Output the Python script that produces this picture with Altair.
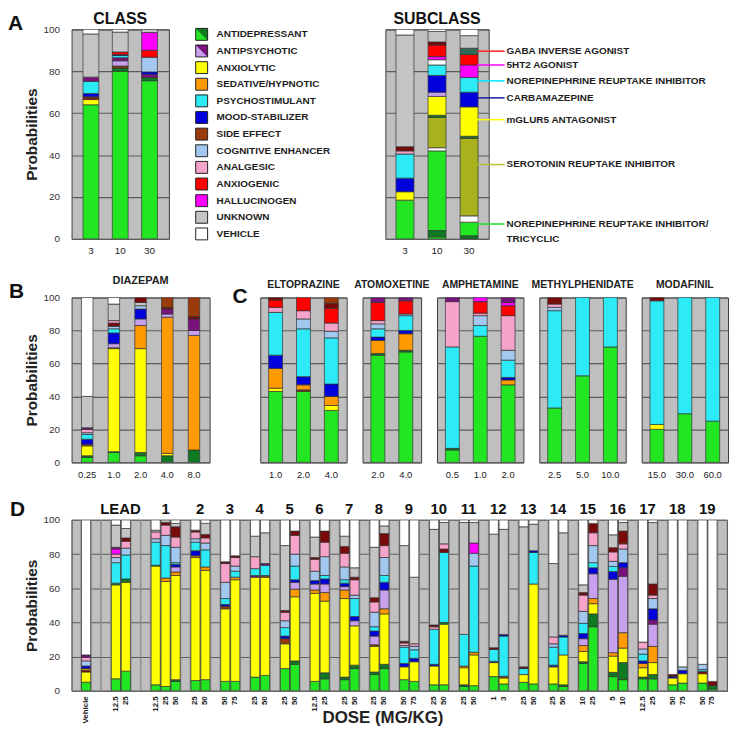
import altair as alt
import pandas as pd

FONT = "Liberation Sans"
TICKS = [0, 20, 40, 60, 80, 100]

# ---------------- colour codes ----------------
CODES = ["AD", "AD2", "AP", "AP2", "AX", "SH", "PS", "MS", "SE", "SE2",
         "CE", "AN", "AXG", "HAL", "UNK", "VEH", "OLV", "DKT"]
COLORS = ["#22e622", "#0f7a22", "#7a127e", "#c7a0ee", "#ffff00", "#ff9a00",
          "#2ceaf6", "#0000dd", "#9a3a0a", "#7a0a0a", "#a2c8f0", "#f5a3c8",
          "#ff0000", "#ff00ff", "#c4c4c4", "#ffffff", "#a9b21c", "#2f6b55"]
COLOR_SCALE = alt.Scale(domain=CODES, range=COLORS)

LEGEND_LABELS = ["ANTIDEPRESSANT", "ANTIPSYCHOTIC", "ANXIOLYTIC", "SEDATIVE/HYPNOTIC",
                 "PSYCHOSTIMULANT", "MOOD-STABILIZER", "SIDE EFFECT", "COGNITIVE ENHANCER",
                 "ANALGESIC", "ANXIOGENIC", "HALLUCINOGEN", "UNKNOWN", "VEHICLE"]
LEGEND_CODES = ["AD", "AP2", "AX", "SH", "PS", "MS", "SE", "CE", "AN", "AXG", "HAL", "UNK", "VEH"]
LEGEND_SPLIT_LABELS = ["ANTIDEPRESSANT", "ANTIPSYCHOTIC"]
LEGEND_SPLIT_CODES = ["AD2", "AP"]

# ---------------- panel A ----------------
CLASS_BARS = [
    ("3", [("AD", 64), ("AX", 2.5), ("AXG", 0.7), ("SE", 0.6), ("MS", 1.6), ("PS", 5.8),
           ("AP", 2), ("UNK", 20.6), ("VEH", 2.2)]),
    ("10", [("AD", 80), ("AD2", 1.5), ("SE", 1), ("AP2", 2.5), ("AP", 1.5), ("PS", 1),
            ("MS", 0.5), ("AXG", 1.2), ("UNK", 9.5), ("VEH", 1.3)]),
    ("30", [("AD", 75.5), ("AD2", 1.5), ("AP", 1.5), ("MS", 1.2), ("CE", 7), ("AXG", 3.3),
            ("HAL", 8.5), ("UNK", 1.5)]),
]
SUBCLASS_BARS = [
    ("3", [("AD", 18.5), ("AX", 4), ("MS", 6.5), ("PS", 11.5), ("AN", 1.5), ("SE2", 2),
           ("UNK", 53.3), ("VEH", 2.7)]),
    ("10", [("AD", 1), ("AD2", 3), ("AD", 38), ("VEH", 1.5), ("OLV", 14.5), ("AD2", 1),
            ("AX", 9), ("AP2", 2), ("MS", 8), ("PS", 5), ("VEH", 2.5), ("HAL", 1.5),
            ("AXG", 5.5), ("SE2", 1.5), ("UNK", 5), ("VEH", 1)]),
    ("30", [("AD2", 1.5), ("AD", 6.5), ("VEH", 3), ("OLV", 37), ("AD2", 1), ("AX", 14),
            ("MS", 7), ("PS", 7), ("HAL", 6), ("AXG", 5), ("DKT", 3), ("UNK", 6), ("VEH", 3)]),
]
ANNOT_LABELS = ["GABA  INVERSE AGONIST", "5HT2 AGONIST", "NOREPINEPHRINE REUPTAKE INHIBITOR",
                "CARBAMAZEPINE", "mGLUR5 ANTAGONIST", "SEROTONIN REUPTAKE INHIBITOR",
                "NOREPINEPHRINE REUPTAKE INHIBITOR/"]
ANNOT_VALUES = [89.6, 83.0, 75.4, 67.3, 56.9, 35.5, 7.1]
ANNOT_COLORS = ["#ff2020", "#ff00ff", "#00e5ff", "#1a1a99", "#ffff00", "#b8c030", "#22dd22"]
ANNOT_EXTRA_LABELS = ["TRICYCLIC"]
ANNOT_EXTRA_VALUES = [0.0]

# ---------------- panel B ----------------
DIAZEPAM_BARS = [
    ("0.25", [("AD", 3), ("AD2", 1), ("AX", 6), ("SE", 1), ("MS", 3), ("PS", 3), ("CE", 1),
              ("AN", 2), ("AP", 1), ("UNK", 19), ("VEH", 60)]),
    ("1.0", [("AD", 6), ("AD2", 0.5), ("AX", 62.5), ("SH", 0.5), ("AP2", 2.5), ("MS", 6.5),
             ("PS", 2.5), ("CE", 1.5), ("SE2", 2), ("AN", 1.5), ("UNK", 10), ("VEH", 4)]),
    ("2.0", [("AD", 4), ("AD2", 2), ("AX", 63), ("SH", 14), ("AP2", 4), ("MS", 6), ("CE", 2),
             ("UNK", 2), ("SE2", 3)]),
    ("4.0", [("AD2", 4), ("AX", 1.5), ("SH", 82.5), ("AP2", 2), ("AP", 3), ("SE2", 1), ("SE", 6)]),
    ("8.0", [("AD2", 7.5), ("SH", 69.5), ("AP2", 3), ("AP", 7), ("SE2", 1.5), ("SE", 11.5)]),
]

# ---------------- panel C ----------------
ELTOPRAZINE_BARS = [
    ("1.0", [("AD", 43), ("AX", 2), ("SH", 12), ("MS", 8), ("PS", 26), ("AN", 3), ("AXG", 4.5),
             ("SE2", 1.5)]),
    ("2.0", [("AD", 43), ("SE", 1), ("SH", 3), ("MS", 5), ("PS", 29), ("CE", 6), ("AN", 5),
             ("AXG", 8)]),
    ("4.0", [("AD", 31.5), ("AX", 3), ("SH", 5.5), ("MS", 7.5), ("PS", 28), ("CE", 4), ("AN", 5),
             ("AXG", 9), ("SE2", 3), ("SE", 3.5)]),
]
ATOMOXETINE_BARS = [
    ("2.0", [("AD", 65), ("AD2", 1), ("SH", 8), ("MS", 2), ("PS", 5), ("CE", 3), ("AN", 2),
             ("AXG", 11), ("AP", 3)]),
    ("4.0", [("AD", 67), ("AD2", 1), ("SH", 10), ("MS", 2), ("PS", 9), ("CE", 1), ("AXG", 8),
             ("AP", 2)]),
]
AMPHETAMINE_BARS = [
    ("0.5", [("AD", 7.5), ("AD2", 1), ("PS", 61.5), ("AN", 27.5), ("AP", 2.5)]),
    ("1.0", [("AD", 76.5), ("PS", 6.5), ("CE", 6), ("AN", 1.5), ("AXG", 7), ("HAL", 2.5)]),
    ("2.0", [("AD", 47), ("SH", 3), ("MS", 1.5), ("PS", 10.5), ("CE", 6), ("AN", 21),
             ("AXG", 6), ("HAL", 2), ("AP", 3)]),
]
METHYLPHENIDATE_BARS = [
    ("2.5", [("AD", 33), ("PS", 59), ("CE", 2), ("AN", 2), ("SE2", 4)]),
    ("5.0", [("AD", 52.5), ("PS", 47.5)]),
    ("10.0", [("AD", 70), ("PS", 30)]),
]
MODAFINIL_BARS = [
    ("15.0", [("AD", 20), ("AX", 3), ("PS", 75), ("SE2", 2)]),
    ("30.0", [("AD", 29.5), ("PS", 70.5)]),
    ("60.0", [("AD", 25), ("PS", 75)]),
]
C_PANELS = [("ELTOPRAZINE", ELTOPRAZINE_BARS), ("ATOMOXETINE", ATOMOXETINE_BARS),
            ("AMPHETAMINE", AMPHETAMINE_BARS), ("METHYLPHENIDATE", METHYLPHENIDATE_BARS),
            ("MODAFINIL", MODAFINIL_BARS)]

# ---------------- panel D ----------------
D_BARS = [
    ("V", "Vehicle", [("AD", 5), ("AX", 6), ("SE2", 1), ("SH", 1), ("MS", 1.5), ("CE", 3), ("AN", 2), ("AP", 1.5), ("VEH", 79)]),
    ("LEAD", "12.5", [("AD", 7), ("AX", 55), ("AD2", 1), ("PS", 12), ("CE", 3), ("AN", 2), ("HAL", 3), ("AP", 1), ("UNK", 13), ("VEH", 3)]),
    ("LEAD", "25", [("AD", 11.5), ("AX", 52), ("AD2", 2), ("PS", 14), ("CE", 4), ("AN", 4), ("SE2", 2), ("UNK", 5.5), ("VEH", 5)]),
    ("1", "12.5", [("AD", 3.5), ("AX", 69.5), ("AD2", 0.5), ("PS", 13.5), ("CE", 2), ("AN", 4), ("UNK", 1), ("VEH", 6)]),
    ("1", "25", [("AD", 2.5), ("AX", 61.5), ("SH", 2), ("PS", 19), ("CE", 6), ("AN", 6), ("SE2", 1.5), ("UNK", 1.5)]),
    ("1", "50", [("AD", 5.5), ("AD2", 1), ("AX", 61), ("SH", 2), ("AP2", 3), ("MS", 1.5), ("PS", 1), ("CE", 9), ("AN", 6), ("SE2", 6), ("UNK", 2), ("VEH", 2)]),
    ("2", "25", [("AD", 6), ("AX", 72), ("SH", 1), ("MS", 3), ("PS", 5), ("CE", 2), ("AN", 4), ("SE2", 1), ("VEH", 6)]),
    ("2", "50", [("AD", 6.5), ("AX", 64), ("SH", 2), ("PS", 10), ("CE", 4), ("AN", 3), ("SE2", 2), ("UNK", 6.5), ("VEH", 2)]),
    ("3", "50", [("AD", 5.5), ("AX", 42.5), ("SE", 1.5), ("MS", 1), ("PS", 3.5), ("CE", 9.5), ("AN", 11), ("SE2", 1), ("VEH", 24.5)]),
    ("3", "75", [("AD", 5.5), ("AX", 59.5), ("SH", 1.5), ("PS", 3.5), ("CE", 3), ("AN", 5), ("SE2", 1), ("VEH", 21)]),
    ("4", "25", [("AD", 8), ("AX", 58.5), ("AP", 1), ("PS", 4), ("AN", 7), ("UNK", 12), ("VEH", 9.5)]),
    ("4", "50", [("AD", 9), ("AX", 57.5), ("SE", 1), ("PS", 6), ("AP", 1), ("UNK", 18), ("VEH", 7.5)]),
    ("5", "25", [("AD", 13), ("AX", 14.5), ("SE", 3), ("MS", 1.5), ("PS", 5), ("CE", 4), ("AN", 5), ("SE2", 1), ("UNK", 38), ("VEH", 15)]),
    ("5", "50", [("AD", 15.5), ("AD2", 2), ("AX", 37.5), ("SH", 4.5), ("AP2", 4), ("MS", 1.5), ("PS", 8), ("CE", 7), ("AN", 11), ("SE2", 2.5), ("VEH", 6.5)]),
    ("6", "12.5", [("AD", 5.5), ("AX", 51.5), ("SH", 2), ("AP2", 3.5), ("MS", 2), ("CE", 5.5), ("AN", 7), ("SE2", 1), ("UNK", 12), ("VEH", 10)]),
    ("6", "25", [("AD", 7), ("AD2", 3.5), ("AX", 42), ("SH", 5), ("AP2", 5), ("MS", 3), ("PS", 2), ("CE", 11), ("AN", 8.5), ("SE2", 6.5), ("VEH", 6.5)]),
    ("7", "25", [("AD", 6.5), ("AD2", 1.5), ("AX", 46), ("SH", 5), ("AP2", 2), ("MS", 2), ("PS", 2), ("CE", 7.5), ("AN", 8), ("SE2", 4), ("UNK", 6), ("VEH", 9.5)]),
    ("7", "50", [("AD", 13), ("AD2", 2), ("AX", 23), ("AP2", 3), ("MS", 2.5), ("PS", 10.5), ("CE", 2), ("AN", 9), ("SE2", 1.5), ("UNK", 5.5), ("VEH", 28)]),
    ("8", "25", [("AD", 9.5), ("AD2", 1.5), ("AX", 15), ("SE", 1), ("AP2", 5), ("MS", 3), ("PS", 2.5), ("CE", 8.5), ("AN", 6), ("SE2", 2.5), ("UNK", 29.5), ("VEH", 16)]),
    ("8", "50", [("AD", 13), ("AD2", 2.5), ("AX", 29.5), ("SH", 3), ("AP2", 11), ("MS", 4.5), ("PS", 4), ("CE", 10.5), ("AN", 7), ("SE2", 7), ("UNK", 4.5), ("VEH", 3.5)]),
    ("9", "50", [("AD", 6.5), ("AX", 7.5), ("MS", 2), ("PS", 9.5), ("CE", 1), ("AN", 1.5), ("SE2", 1), ("UNK", 56), ("VEH", 15)]),
    ("9", "75", [("AD", 5.5), ("AX", 11.5), ("MS", 2), ("PS", 5), ("CE", 2), ("AN", 1.5), ("UNK", 39), ("VEH", 33.5)]),
    ("10", "25", [("AD", 3.5), ("AX", 11), ("MS", 1), ("PS", 20.5), ("AN", 1.5), ("SE2", 1), ("UNK", 56), ("VEH", 5.5)]),
    ("10", "50", [("AD", 3.5), ("AX", 35.5), ("AD2", 1), ("PS", 41), ("SE2", 2), ("AN", 3), ("UNK", 12.5), ("VEH", 1.5)]),
    ("11", "25", [("AD", 2.5), ("AD2", 1), ("AX", 10), ("SH", 1), ("PS", 18.5), ("UNK", 65.5), ("VEH", 1.5)]),
    ("11", "50", [("AD", 3), ("AX", 18), ("SH", 1.5), ("PS", 50.5), ("CE", 7.5), ("HAL", 6), ("UNK", 12), ("VEH", 1.5)]),
    ("12", "1", [("AD", 8.3), ("AX", 8.2), ("MS", 0.7), ("PS", 7), ("SE2", 1), ("UNK", 66.5), ("VEH", 8.3)]),
    ("12", "3", [("AD", 4), ("AX", 3.5), ("SE", 1), ("PS", 23.5), ("MS", 1), ("UNK", 61.5), ("VEH", 5.5)]),
    ("13", "25", [("AD", 5), ("AX", 4.5), ("PS", 3.5), ("SE2", 1), ("UNK", 82), ("VEH", 4)]),
    ("13", "50", [("AD", 4), ("AX", 58.5), ("PS", 18.5), ("MS", 1), ("UNK", 15.5), ("VEH", 2.5)]),
    ("14", "25", [("AD", 4), ("AX", 10), ("MS", 1), ("PS", 10.5), ("CE", 2), ("AN", 4), ("UNK", 43), ("VEH", 25.5)]),
    ("14", "50", [("AD", 2.5), ("AD2", 1), ("AX", 17.5), ("PS", 10.5), ("MS", 1), ("UNK", 60), ("VEH", 7.5)]),
    ("15", "10", [("AD", 16), ("AD2", 1), ("AX", 6), ("SH", 3.5), ("AP2", 4), ("MS", 3), ("PS", 6), ("CE", 7), ("AN", 9.5), ("SE2", 1.5), ("UNK", 4.5), ("VEH", 38)]),
    ("15", "25", [("AD", 37.5), ("AD2", 7.5), ("AX", 6), ("SH", 3), ("AP2", 14.5), ("MS", 3.5), ("PS", 3), ("CE", 10), ("AN", 7.5), ("SE2", 5.5), ("VEH", 2)]),
    ("16", "5", [("AD", 8.3), ("AD2", 2.5), ("AX", 9.5), ("SH", 2), ("AP2", 43), ("MS", 4.5), ("PS", 3), ("CE", 3), ("AN", 5.5), ("SE2", 2.5), ("UNK", 7.5), ("VEH", 8.7)]),
    ("16", "10", [("AD", 6.5), ("AD2", 10), ("AX", 8.5), ("SH", 9), ("AP2", 33), ("AP", 5), ("MS", 3), ("CE", 8), ("AN", 3), ("SE2", 7.5), ("UNK", 5), ("VEH", 1.5)]),
    ("17", "12.5", [("AD", 7), ("AD2", 1), ("AX", 5.5), ("SH", 2.5), ("MS", 1.5), ("PS", 4), ("CE", 3), ("AN", 4), ("VEH", 71.5)]),
    ("17", "25", [("AD", 7), ("AD2", 2.5), ("AX", 7), ("SH", 9.5), ("AP2", 13), ("AP", 2.5), ("MS", 6.5), ("CE", 6), ("AN", 2), ("SE2", 6.5), ("UNK", 36), ("VEH", 1.5)]),
    ("18", "50", [("AD", 3.5), ("AX", 4), ("MS", 1), ("SE2", 1), ("VEH", 90.5)]),
    ("18", "75", [("AD", 4.5), ("AX", 5.5), ("MS", 2), ("CE", 2), ("VEH", 86)]),
    ("19", "50", [("AD", 4.5), ("AX", 5.5), ("SE2", 1.5), ("PS", 1), ("CE", 3), ("VEH", 84.5)]),
    ("19", "75", [("AD", 1), ("AD2", 2), ("SE2", 2.5), ("VEH", 94.5)]),
]
D_GAP_AFTER = {"V": 2, "LEAD": 2}


# ---------------- helpers ----------------
def frame(bars):
    rows = []
    for bar, segs in bars:
        for i, (code, v) in enumerate(segs):
            rows.append({"bar": bar, "code": code, "value": v, "idx": i})
    return pd.DataFrame(rows)


GRID = dict(grid=True, gridColor="#5c5c5c", gridWidth=1.2)


def y_axis(show):
    if show:
        return alt.Axis(values=TICKS, title="Probabilities", titleFontSize=15.5,
                        titleFontWeight="bold", titleColor="#222", titlePadding=4,
                        labelFontSize=10, labelColor="#333", labelPadding=12,
                        ticks=False, domain=False, **GRID)
    return alt.Axis(values=TICKS, labels=False, title=None, ticks=False, domain=False, **GRID)


def x_axis(size=10):
    return alt.Axis(title=None, labelAngle=0, ticks=False, domain=False,
                    labelFontSize=size, labelPadding=7, labelColor="#222")


Y_SCALE = alt.Scale(domain=[0, 100], nice=False)
VIEW = alt.ViewBackground(fill="#bfbfbf", stroke="#3c3c3c", strokeWidth=1, strokeOpacity=1)
NOVIEW = alt.ViewBackground(strokeOpacity=0)


def stacked(bars, xaxis, yaxis, pi, po):
    dom = [b[0] for b in bars]
    return alt.Chart(frame(bars)).mark_bar(stroke="#333333", strokeWidth=0.7, clip=True).encode(
        x=alt.X("bar:N", scale=alt.Scale(domain=dom, paddingInner=pi, paddingOuter=po), axis=xaxis),
        y=alt.Y("value:Q", stack="zero", scale=Y_SCALE, axis=yaxis),
        color=alt.Color("code:N", scale=COLOR_SCALE, legend=None),
        order=alt.Order("idx:Q", sort="ascending"),
    )


def label(text, dx, dy, size, align="left"):
    return alt.Chart(pd.DataFrame({"t": [text]})).mark_text(
        align=align, baseline="alphabetic", fontSize=size, fontWeight="bold", color="#111"
    ).encode(x=alt.value(dx), y=alt.value(dy), text="t:N")


def letter(ch, dx, dy):
    return label(ch, dx, dy, 21)


def ptitle(text, size, offset):
    return alt.Title(text, fontSize=size, fontWeight="bold", offset=offset, color="#222", anchor="middle")


# ---------------- row 1 ----------------
class_chart = alt.layer(
    stacked(CLASS_BARS, x_axis(), y_axis(True), 0.46, 0.39),
    label("CLASS", 49, -5, 16, "center"),
).properties(width=98, height=211, view=VIEW)

leg_df = pd.DataFrame({"label": LEGEND_LABELS, "code": LEGEND_CODES})
split_df = pd.DataFrame({"label": LEGEND_SPLIT_LABELS, "code": LEGEND_SPLIT_CODES})
leg_y = alt.Y("label:N", scale=alt.Scale(type="point", domain=LEGEND_LABELS, padding=0.3), axis=None)
leg_sw = alt.Chart(leg_df).mark_square(size=144, opacity=1).encode(
    x=alt.value(19), y=leg_y, color=alt.Color("code:N", scale=COLOR_SCALE, legend=None))
leg_tri = alt.Chart(split_df).mark_point(shape="M-1,-1L1,-1L1,1Z", size=144, filled=True, opacity=1).encode(
    x=alt.value(19), y=leg_y, color=alt.Color("code:N", scale=COLOR_SCALE, legend=None))
leg_out = alt.Chart(leg_df).mark_square(size=144, filled=False, stroke="#222", strokeWidth=1, opacity=1).encode(
    x=alt.value(19), y=leg_y)
leg_txt = alt.Chart(leg_df).mark_text(align="left", baseline="middle", fontSize=10,
                                      fontWeight="bold", color="#1e1e1e").encode(
    x=alt.value(34), y=leg_y, text="label:N")
legend_chart = alt.layer(leg_sw, leg_tri, leg_out, leg_txt, letter("A", -176, 1)).properties(
    width=190, height=211, view=NOVIEW)

ann_df = pd.DataFrame({"value": ANNOT_VALUES, "label": ANNOT_LABELS, "col": ANNOT_COLORS})
ann_all = pd.DataFrame({"value": ANNOT_VALUES + ANNOT_EXTRA_VALUES,
                        "label": ANNOT_LABELS + ANNOT_EXTRA_LABELS})
ann_y = alt.Y("value:Q", scale=Y_SCALE, axis=y_axis(False))
ann_rules = alt.Chart(ann_df).mark_rule(strokeWidth=1.5).encode(
    x=alt.value(92), x2=alt.value(120), y=ann_y, stroke=alt.Stroke("col:N", scale=None))
ann_text = alt.Chart(ann_all).mark_text(align="left", baseline="middle", fontSize=10,
                                        fontWeight="bold", color="#1e1e1e").encode(
    x=alt.value(122), y=ann_y, text="label:N")
subclass_chart = alt.layer(
    stacked(SUBCLASS_BARS, x_axis(), y_axis(False), 0.44, 0.33), ann_rules, ann_text,
    label("SUBCLASS", 52, -5, 16, "center"),
).properties(width=104, height=211, view=VIEW)

row1 = alt.hconcat(class_chart, legend_chart, subclass_chart, spacing=14, bounds="flush")

# ---------------- row 2 ----------------
b_chart = stacked(DIAZEPAM_BARS, x_axis(9.5), y_axis(True), 0.57, 0.37).properties(
    width=139, height=166, title=ptitle("DIAZEPAM", 11, 7), view=VIEW)

spacer = alt.layer(letter("B", -218, 1), letter("C", 7, 6)).properties(
    width=19, height=166, view=NOVIEW)

c_charts = []
for name, bars in C_PANELS:
    c_charts.append(stacked(bars, x_axis(9.5), y_axis(False), 0.5, 0.3).properties(
        width=round(28 * (len(bars) + 0.1)), height=166, title=ptitle(name, 10.5, 7), view=VIEW))
row2 = alt.hconcat(b_chart, spacer, *c_charts, spacing=16, bounds="flush")

# ---------------- row 3 ----------------
d_rows = [(f"{g}|{d}", segs) for g, d, segs in D_BARS]
groups = []
for g, d, _ in D_BARS:
    if not groups or groups[-1][0] != g:
        groups.append((g, []))
    groups[-1][1].append(d)
slots = ["s0|"]
for g, doses in groups:
    slots += [f"{g}|{d}" for d in doses]
    for j in range(D_GAP_AFTER.get(g, 1)):
        slots.append(f"s{len(slots)}|")

axD = alt.Axis(title="DOSE (MG/KG)", titleFontSize=17, titleFontWeight="bold", titleColor="#222",
               titleX=313, titleY=27, titleBaseline="middle", labelAngle=270, labelFontSize=8,
               labelFontWeight="bold", labelPadding=5, labelColor="#222",
               labelExpr="split(datum.label, '|')[1]", labelOverlap=False, ticks=False, domain=False)
xscD = alt.Scale(domain=slots, paddingInner=0.08, paddingOuter=0)
yD = alt.Y("value:Q", scale=Y_SCALE, axis=y_axis(True))

ghost = alt.Chart(pd.DataFrame({"bar": slots, "value": [100] * len(slots)})).mark_bar(
    fillOpacity=0, stroke="#8c8c8c", strokeWidth=0.8).encode(
    x=alt.X("bar:N", scale=xscD, axis=axD), y=yD)
d_bars = stacked(d_rows, axD, y_axis(True), 0.08, 0).encode(x=alt.X("bar:N", scale=xscD, axis=axD))

even = [(f"{g}|{doses[len(doses) // 2 - 1]}", g) for g, doses in groups if g != "V" and len(doses) % 2 == 0]
odd = [(f"{g}|{doses[len(doses) // 2]}", g) for g, doses in groups if g != "V" and len(doses) % 2 == 1]
lab_even = alt.Chart(pd.DataFrame(even, columns=["bar", "name"])).mark_text(
    fontSize=15, fontWeight="bold", baseline="alphabetic", color="#111").encode(
    x=alt.X("bar:N", scale=xscD, axis=axD, bandPosition=1), y=alt.value(-6), text="name:N")
lab_odd = alt.Chart(pd.DataFrame(odd, columns=["bar", "name"])).mark_text(
    fontSize=15, fontWeight="bold", baseline="alphabetic", color="#111").encode(
    x=alt.X("bar:N", scale=xscD, axis=axD, bandPosition=0.5), y=alt.value(-6), text="name:N")

d_chart = alt.layer(ghost, d_bars, lab_even, lab_odd, letter("D", -62, -4)).properties(
    width=660, height=172, view=VIEW)

top = alt.vconcat(row1, row2, spacing=17)
chart = alt.vconcat(top, d_chart, spacing=19).properties(
    padding={"left": 0, "top": 0, "right": 2, "bottom": 2}
).configure(font=FONT).configure_view(strokeOpacity=0)

chart.save("out.html", embed_options={"renderer": "svg", "actions": False})
